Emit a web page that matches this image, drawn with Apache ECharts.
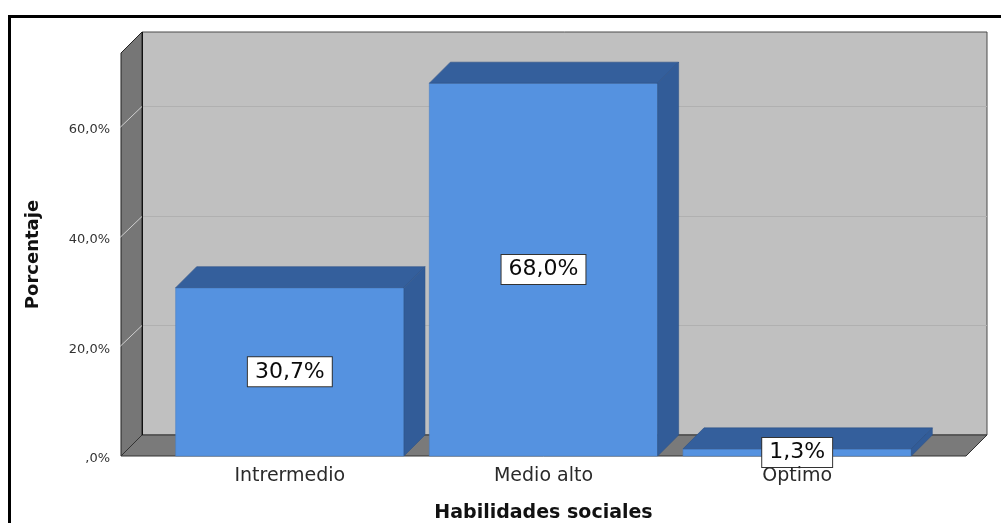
<!DOCTYPE html>
<html>
<head>
<meta charset="utf-8">
<script src="https://cdn.jsdelivr.net/npm/echarts@6/dist/echarts.min.js"></script>
<style>
  html, body { margin: 0; padding: 0; background: #ffffff; }
  #chart { width: 1001px; height: 523px; }
</style>
</head>
<body>
<div id="chart"></div>
<script>
// Habilidades sociales: percentage per level
const categories = ['Intrermedio', 'Medio alto', 'Optimo'];
const percentages = [30.7, 68.0, 1.3];
const yTicks = [0, 20, 40, 60];

// 3D look: depth offset of the box and extra floor beyond the category bands
const DEPTH = 21;
const PAD = 42;

function fmtPct(v) {
  if (v === 0) return ',0%';
  return v.toFixed(1).replace('.', ',') + '%';
}

// Walls, floor and gridlines of the 3D box
function renderBackdrop(params, api) {
  const cs = params.coordSys;
  const left = cs.x - PAD;
  const right = cs.x + cs.width + PAD;
  const top = cs.y;
  const bottom = cs.y + cs.height;
  const D = DEPTH;
  const children = [];

  children.push({
    type: 'rect',
    shape: { x: left + D, y: top - D, width: right - left, height: bottom - top },
    style: { fill: '#c0c0c0', stroke: '#4a4a4a', lineWidth: 1 }
  });
  children.push({
    type: 'polygon',
    shape: { points: [[left, top], [left + D, top - D], [left + D, bottom - D], [left, bottom]] },
    style: { fill: '#767676', stroke: '#222222', lineWidth: 1 }
  });
  children.push({
    type: 'polygon',
    shape: { points: [[left, bottom], [right, bottom], [right + D, bottom - D], [left + D, bottom - D]] },
    style: { fill: '#7a7a7a', stroke: '#333333', lineWidth: 1 }
  });

  yTicks.forEach(function (v) {
    if (v === 0) return;
    const y = Math.round(api.coord([0, v])[1]) + 0.5;
    children.push({
      type: 'polyline',
      shape: { points: [[left - 1, y], [left + D, y - D]] },
      style: { stroke: '#cfcfcf', lineWidth: 1, fill: null }
    });
    children.push({
      type: 'polyline',
      shape: { points: [[left + D, y - D], [right + D, y - D]] },
      style: { stroke: '#b0b0b0', lineWidth: 1, fill: null }
    });
  });

  // wall edge line between side wall and back wall
  children.push({
    type: 'polyline',
    shape: { points: [[left + D + 0.5, top - D], [left + D + 0.5, bottom - D]] },
    style: { stroke: '#111111', lineWidth: 1, fill: null }
  });

  return { type: 'group', children: children };
}

// 3D bar: front face, top face, right side face and value box
function renderBar(params, api) {
  const idx = api.value(0);
  const val = api.value(1);
  const topPt = api.coord([idx, val]);
  const basePt = api.coord([idx, 0]);
  const w = api.size([1, 0])[0] * 0.9;
  const x0 = topPt[0] - w / 2;
  const x1 = topPt[0] + w / 2;
  const yt = topPt[1];
  const yb = basePt[1];
  const D = DEPTH;

  return {
    type: 'group',
    children: [
      {
        type: 'rect',
        shape: { x: x0, y: yt, width: w, height: yb - yt },
        style: { fill: '#5592e0', stroke: '#4a7fc4', lineWidth: 0.6 }
      },
      {
        type: 'polygon',
        shape: { points: [[x0, yt], [x1, yt], [x1 + D, yt - D], [x0 + D, yt - D]] },
        style: { fill: '#345f9c', stroke: '#2d5288', lineWidth: 0.6 }
      },
      {
        type: 'polygon',
        shape: { points: [[x1, yt], [x1 + D, yt - D], [x1 + D, yb - D], [x1, yb]] },
        style: { fill: '#325c98', stroke: '#2d5288', lineWidth: 0.6 }
      },
      {
        type: 'text',
        x: topPt[0],
        y: (yt + yb) / 2,
        style: {
          text: fmtPct(val),
          fontFamily: 'DejaVu Sans',
          fontSize: 22,
          fill: '#0a0a0a',
          align: 'center',
          verticalAlign: 'middle',
          backgroundColor: '#ffffff',
          borderColor: '#333333',
          borderWidth: 1,
          padding: [4, 7, 3, 7]
        },
        z2: 10
      }
    ]
  };
}

const chart = echarts.init(document.getElementById('chart'), null, { renderer: 'canvas' });

chart.setOption({
  animation: false,
  backgroundColor: '#ffffff',
  grid: { left: 163, right: 77, top: 53, bottom: 67, containLabel: false, outerBoundsMode: 'none' },
  xAxis: {
    type: 'category',
    data: categories,
    axisLine: { show: false },
    axisTick: { show: false },
    axisLabel: {
      fontFamily: 'DejaVu Sans',
      fontSize: 19,
      color: '#2a2a2a',
      margin: 11
    },
    name: 'Habilidades sociales',
    nameLocation: 'middle',
    nameGap: 48,
    nameTextStyle: {
      fontFamily: 'DejaVu Sans',
      fontWeight: 'bold',
      fontSize: 19,
      color: '#111111'
    },
    z: 20
  },
  yAxis: {
    type: 'value',
    min: 0,
    max: 73.5,
    interval: 20,
    axisLine: { show: false },
    axisTick: { show: false },
    splitLine: { show: false },
    axisLabel: {
      fontFamily: 'DejaVu Sans',
      fontSize: 13,
      color: '#333333',
      margin: 53,
      verticalAlign: 'top',
      lineHeight: 6,
      formatter: function (v) {
        return yTicks.indexOf(v) >= 0 ? fmtPct(v) : '';
      }
    },
    name: 'Porcentaje',
    nameLocation: 'middle',
    nameRotate: 90,
    nameGap: 121,
    nameTextStyle: {
      fontFamily: 'DejaVu Sans',
      fontWeight: 'bold',
      fontSize: 18,
      color: '#111111'
    }
  },
  graphic: [
    {
      type: 'line',
      shape: { x1: 8, y1: 16.5, x2: 1001, y2: 16.5 },
      style: { stroke: '#000000', lineWidth: 3 }
    },
    {
      type: 'line',
      shape: { x1: 9.5, y1: 15, x2: 9.5, y2: 523 },
      style: { stroke: '#000000', lineWidth: 3 }
    }
  ],
  series: [
    {
      type: 'custom',
      name: 'box',
      renderItem: renderBackdrop,
      data: [[0, 0]],
      silent: true,
      z: 1
    },
    {
      type: 'custom',
      name: 'Porcentaje',
      renderItem: renderBar,
      encode: { x: 0, y: 1 },
      data: percentages.map(function (v, i) { return [i, v]; }),
      z: 2
    }
  ]
});
</script>
</body>
</html>
